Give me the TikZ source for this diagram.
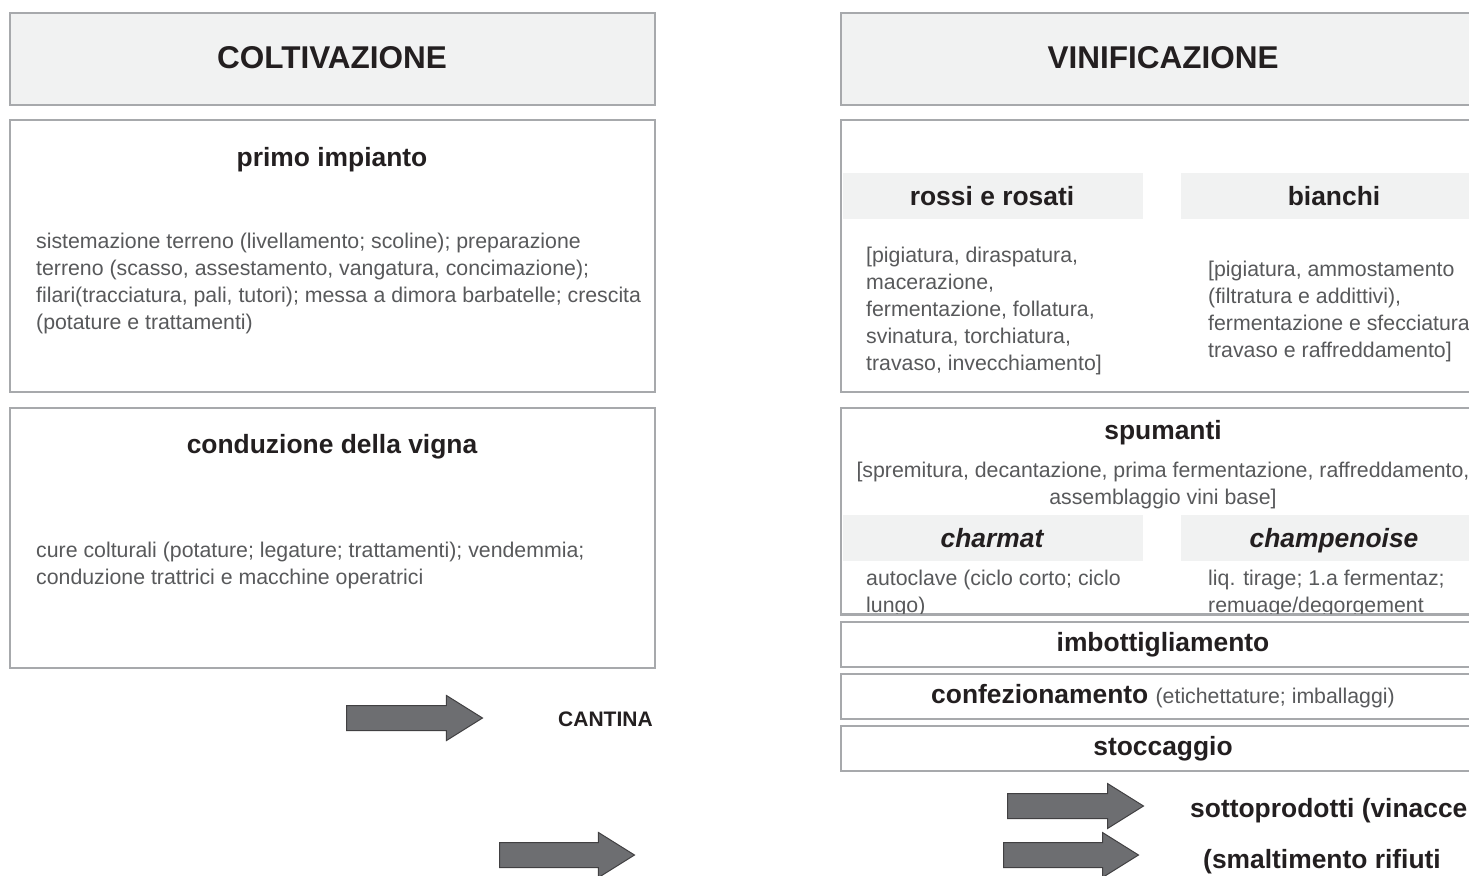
\documentclass[tikz,border=0pt]{standalone}
\usepackage{fontspec}
\setmainfont{Liberation Sans}
\usetikzlibrary{shapes.arrows,positioning}
\definecolor{panelgray}{HTML}{F1F2F2}
\definecolor{framegray}{HTML}{A7A9AC}
\definecolor{inkdark}{HTML}{231F20}
\definecolor{inkbody}{HTML}{58595B}
\definecolor{arrowfill}{HTML}{6D6E71}
\definecolor{arrowline}{HTML}{414042}
\tikzset{
    titlebox/.style={draw=framegray, line width=1.8pt, fill=panelgray, anchor=north west, inner sep=0pt},
    panel/.style={draw=framegray, line width=1.8pt, fill=white, anchor=north west, inner sep=0pt},
    band/.style={fill=panelgray, anchor=north west, inner sep=0pt},
    title/.style={font=\fontsize{31.5}{36}\selectfont\bfseries, text=inkdark, anchor=base, inner sep=0pt},
    heading/.style={font=\fontsize{26.4}{30}\selectfont\bfseries, text=inkdark, anchor=base, inner sep=0pt},
    bodytext/.style={font=\fontsize{21.3}{27}\selectfont, text=inkbody, align=left, anchor=base west, inner sep=0pt},
    bigarrow/.style={single arrow, fill=arrowfill, draw=arrowline, line width=1pt,
        minimum height=136pt, minimum width=44pt, single arrow head extend=10pt,
        single arrow tip angle=64, inner xsep=0pt, inner ysep=12pt, anchor=tail}
}
\begin{document}
\begin{tikzpicture}[x=1pt, y=-1pt]
    \useasboundingbox (0,0) rectangle (1469,875);
    \clip (0,0) rectangle (1469,875);

    % coltivazione (body nodes sit on their last baseline)
    \node[titlebox, minimum width=645pt, minimum height=92pt] (coltivbox) at (9,12) {};
    \node[title] (coltiv) at (332,69) {COLTIVAZIONE};
    \node[panel, minimum width=645pt, minimum height=272pt] (impiantobox) at (9,119) {};
    \node[heading] (impianto) at (332,166) {primo impianto};
    \node[bodytext] (impiantotxt) at (36,329) {sistemazione terreno (livellamento; scoline); preparazione\\
        terreno (scasso, assestamento, vangatura, concimazione);\\
        filari(tracciatura, pali, tutori); messa a dimora barbatelle; crescita\\
        (potature e trattamenti)};
    \node[panel, minimum width=645pt, minimum height=260pt] (vignabox) at (9,407) {};
    \node[heading] (vigna) at (332,453) {conduzione della vigna};
    \node[bodytext] (vignatxt) at (36,584) {cure colturali (potature; legature; trattamenti); vendemmia;\\
        conduzione trattrici e macchine operatrici};
    \node[bigarrow] (toCantina) at (346,718) {};
    \node[heading, font=\fontsize{21}{24}\selectfont\bfseries, anchor=base west] (cantina) at (558,726) {CANTINA};
    \node[bigarrow, minimum height=135pt] (lowLeft) at (499,855) {};

    % vinificazione
    \node[titlebox, minimum width=646pt, minimum height=92pt] (vinifbox) at (840,12) {};
    \node[title] (vinif) at (1163,69) {VINIFICAZIONE};
    \node[panel, minimum width=646pt, minimum height=272pt] (tipibox) at (840,119) {};
    \node[band, minimum width=300pt, minimum height=46pt] (rossiband) at (843,173) {};
    \node[band, minimum width=305pt, minimum height=46pt] (bianchiband) at (1181,173) {};
    \node[heading] (rossi) at (992,205) {rossi e rosati};
    \node[heading] (bianchi) at (1334,205) {bianchi};
    \node[bodytext] (rossitxt) at (866,370) {[pigiatura, diraspatura,\\
        macerazione,\\
        fermentazione, follatura,\\
        svinatura, torchiatura,\\
        travaso, invecchiamento]};
    \node[bodytext] (bianchitxt) at (1208,357) {[pigiatura, ammostamento\\
        (filtratura e addittivi),\\
        fermentazione e sfecciatura\\
        travaso e raffreddamento]};

    \node[panel, minimum width=646pt, minimum height=206pt] (spumbox) at (840,407) {};
    \begin{scope}
        \clip (840,407) rectangle (1486,613);
        \node[heading] (spumanti) at (1163,439) {spumanti};
        \node[bodytext, align=center, anchor=base] (spumtxt) at (1163,504) {[spremitura, decantazione, prima fermentazione, raffreddamento,\\
            assemblaggio vini base]};
        \node[band, minimum width=300pt, minimum height=46pt] (charmatband) at (843,515) {};
        \node[band, minimum width=305pt, minimum height=46pt] (champband) at (1181,515) {};
        \node[heading, font=\fontsize{26.4}{30}\selectfont\bfseries\itshape] (charmat) at (992,547) {charmat};
        \node[heading, font=\fontsize{26.4}{30}\selectfont\bfseries\itshape] (champ) at (1334,547) {champenoise};
        \node[bodytext] (charmattxt) at (866,612) {autoclave (ciclo corto; ciclo\\
            lungo)};
        \node[bodytext] (champtxt) at (1208,612) {liq. tirage; 1.a fermentaz;\\
            remuage/degorgement};
    \end{scope}
    \draw[framegray, line width=1.8pt] (spumbox.south west) -- (spumbox.south east);

    \node[panel, minimum width=646pt, minimum height=45pt] (imbotbox) at (840,621) {};
    \node[heading] (imbot) at (1163,651) {imbottigliamento};
    \node[panel, minimum width=646pt, minimum height=45pt] (confbox) at (840,673) {};
    \node[heading] (conf) at (1163,703) {confezionamento {\fontsize{21.3}{24}\selectfont\mdseries\color{inkbody}(etichettature; imballaggi)}};
    \node[panel, minimum width=646pt, minimum height=45pt] (stocbox) at (840,725) {};
    \node[heading] (stoc) at (1163,755) {stoccaggio};

    \node[bigarrow] (toSotto) at (1007,806) {};
    \node[heading, anchor=base west] (sotto) at (1190,817) {sottoprodotti (vinacce};
    \node[bigarrow, minimum height=135pt] (toRifiuti) at (1003,855) {};
    \node[heading, anchor=base west] (rifiuti) at (1203,868) {(smaltimento rifiuti};
\end{tikzpicture}
\end{document}
